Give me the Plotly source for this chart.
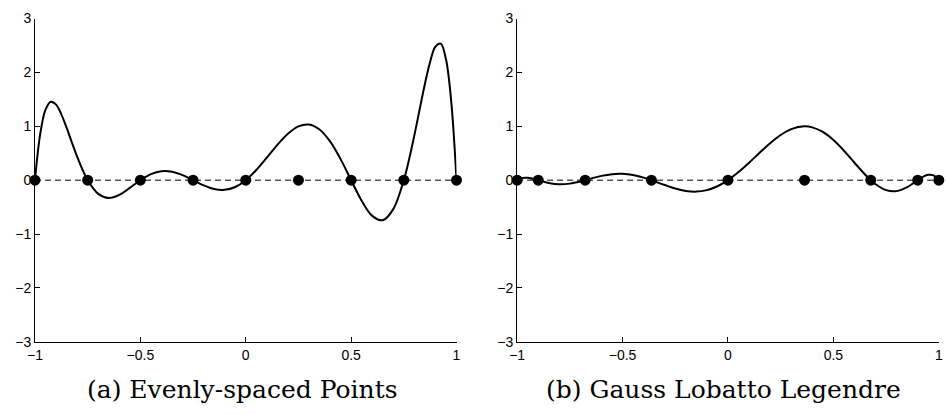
import plotly.graph_objects as go

# ---- Data ----
# (a) Evenly-spaced nodes and the interpolating basis curve
nodes_a = [-1, -0.75, -0.5, -0.25, 0, 0.25, 0.5, 0.75, 1]
curve_x_a = [-1, -0.975, -0.95, -0.925, -0.9, -0.875, -0.85, -0.825, -0.8, -0.775,
             -0.75, -0.7, -0.65, -0.6, -0.55, -0.5, -0.45, -0.4, -0.35, -0.3,
             -0.25, -0.2, -0.15, -0.1, -0.05, 0, 0.05, 0.1, 0.15, 0.2,
             0.25, 0.3, 0.35, 0.4, 0.45, 0.5, 0.55, 0.6, 0.65, 0.7,
             0.75, 0.775, 0.8, 0.825, 0.85, 0.875, 0.9, 0.925, 0.95, 0.975, 1]
curve_y_a = [0, 0.864, 1.309, 1.457, 1.402, 1.222, 0.974, 0.701, 0.436, 0.198,
             0, -0.254, -0.330, -0.273, -0.143, 0, 0.112, 0.166, 0.157, 0.094,
             0, -0.096, -0.164, -0.179, -0.126, 0, 0.189, 0.418, 0.656, 0.863,
             1.0, 1.033, 0.941, 0.720, 0.391, 0, -0.381, -0.662, -0.743, -0.537,
             0, 0.386, 0.832, 1.312, 1.786, 2.200, 2.481, 2.536, 2.245, 1.460, 0]

# (b) Gauss-Lobatto-Legendre nodes and basis curve
nodes_b = [-1, -0.8998, -0.6772, -0.3631, 0, 0.3631, 0.6772, 0.8998, 1]
curve_x_b = [-1, -0.975, -0.95, -0.925, -0.8998, -0.85, -0.8, -0.75, -0.7, -0.6772,
             -0.6, -0.55, -0.5, -0.45, -0.4, -0.3631, -0.3, -0.25, -0.2, -0.15,
             -0.1, -0.05, 0, 0.05, 0.1, 0.15, 0.2, 0.25, 0.3, 0.3631,
             0.4, 0.45, 0.5, 0.55, 0.6, 0.65, 0.6772, 0.7, 0.75, 0.8,
             0.85, 0.8998, 0.925, 0.95, 0.975, 1]
curve_y_b = [0, 0.040, 0.044, 0.027, 0, -0.052, -0.076, -0.064, -0.024, 0,
             0.080, 0.112, 0.118, 0.096, 0.047, 0, -0.090, -0.155, -0.199, -0.212,
             -0.184, -0.113, 0, 0.150, 0.324, 0.509, 0.687, 0.839, 0.947, 1.0,
             0.981, 0.895, 0.745, 0.547, 0.323, 0.105, 0, -0.075, -0.185, -0.203,
             -0.130, 0, 0.062, 0.099, 0.088, 0]

x_ticks = [-1, -0.5, 0, 0.5, 1]
x_ticktext = ["\u22121", "\u22120.5", "0", "0.5", "1"]
y_ticks = [-3, -2, -1, 0, 1, 2, 3]
y_ticktext = ["\u22123", "\u22122", "\u22121", "0", "1", "2", "3"]
captions = ["(a) Evenly-spaced Points", "(b) Gauss Lobatto Legendre"]

fig = go.Figure()

panels = [
    ("x", "y", nodes_a, curve_x_a, curve_y_a),
    ("x2", "y2", nodes_b, curve_x_b, curve_y_b),
]
for xa, ya, nodes, cx, cy in panels:
    fig.add_trace(go.Scatter(x=[-1, 1], y=[0, 0], mode="lines",
                             line=dict(color="black", width=1, dash="6px,4px"),
                             xaxis=xa, yaxis=ya, hoverinfo="skip"))
    fig.add_trace(go.Scatter(x=cx, y=cy, mode="lines",
                             line=dict(color="black", width=2, shape="spline", smoothing=1.0),
                             xaxis=xa, yaxis=ya))
    fig.add_trace(go.Scatter(x=nodes, y=[0] * len(nodes), mode="markers",
                             marker=dict(color="black", size=11),
                             cliponaxis=False, xaxis=xa, yaxis=ya))

tickfont = dict(family="Liberation Sans, Arial, sans-serif", size=14, color="black")
common_x = dict(range=[-1, 1], tickvals=x_ticks, ticktext=x_ticktext, ticks="inside",
                ticklen=5, tickcolor="black", showline=True, linecolor="black",
                linewidth=1, showgrid=False, zeroline=False, tickfont=tickfont)
common_y = dict(range=[-3, 3], tickvals=y_ticks, ticktext=y_ticktext, ticks="inside",
                ticklen=5, tickcolor="black", showline=True, linecolor="black",
                linewidth=1, showgrid=False, zeroline=False, tickfont=tickfont)

ydom = [0.1634, 0.9735]
fig.update_layout(
    width=946, height=415, autosize=False,
    margin=dict(l=0, r=0, t=0, b=0),
    paper_bgcolor="white", plot_bgcolor="white",
    showlegend=False,
    xaxis=dict(domain=[0.0289, 0.4802], anchor="y", **common_x),
    yaxis=dict(domain=ydom, anchor="x", **common_y),
    xaxis2=dict(domain=[0.5451, 0.9966], anchor="y2", **common_x),
    yaxis2=dict(domain=ydom, anchor="x2", **common_y),
)

cap_font = dict(family="DejaVu Serif, serif", size=25, color="black")
for cx_pos, text in zip([0.2516, 0.7664], captions):
    fig.add_annotation(text=text, xref="paper", yref="paper", x=cx_pos, y=0.0434,
                       xanchor="center", yanchor="middle", showarrow=False, font=cap_font)

fig.write_html("out.html")
